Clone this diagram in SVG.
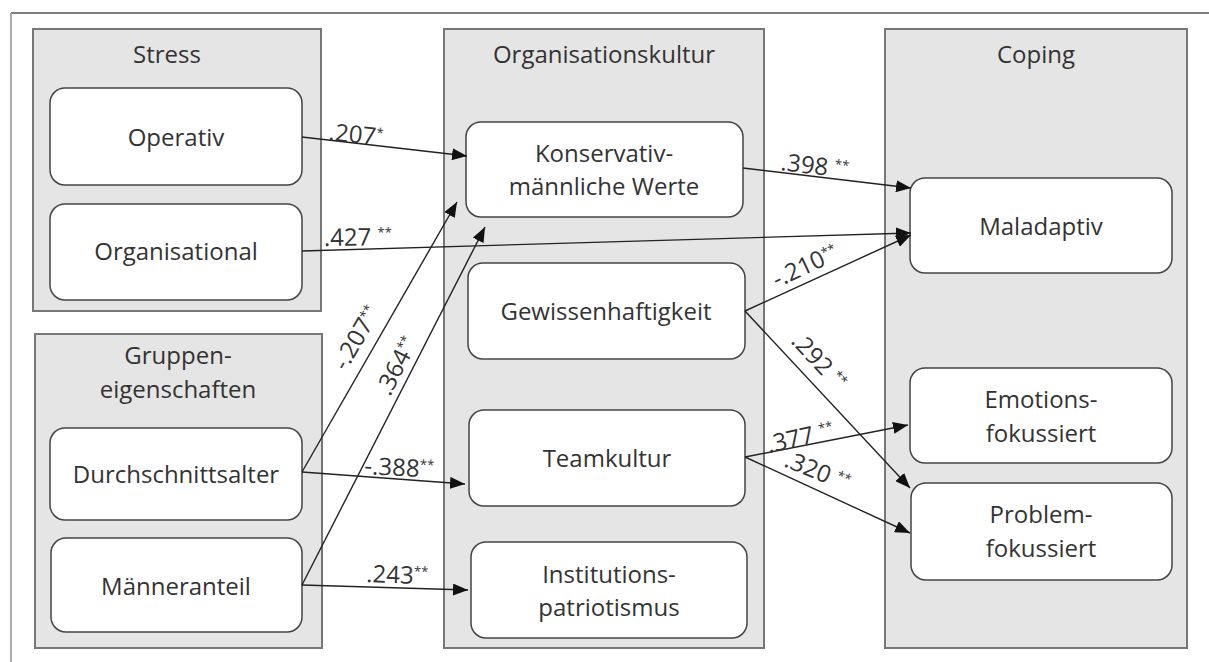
<svg xmlns="http://www.w3.org/2000/svg" width="1209" height="662" viewBox="0 0 1209 662">
<style>
.grp{fill:#e5e5e5;stroke:#777;stroke-width:2}
.node{fill:#fff;stroke:#444;stroke-width:1.5}
.t{font-family:"Open Sans","Liberation Sans",sans-serif;font-size:24px;fill:#333;text-anchor:middle}
.lbl{font-family:"Open Sans","Liberation Sans",sans-serif;font-size:24px;fill:#333}
.sup{font-size:13px}
.edge{fill:none;stroke:#222;stroke-width:1.4;marker-end:url(#arr)}
</style>
<defs>
<marker id="arr" markerUnits="userSpaceOnUse" markerWidth="16" markerHeight="12" refX="15" refY="6" orient="auto">
<path d="M0,0 L15,6 L0,12 z" fill="#111"/>
</marker>
</defs>
<rect width="1209" height="662" fill="#fff"/>
<line x1="11" y1="13" x2="1209" y2="13" stroke="#555" stroke-width="1.5"/>
<line x1="11" y1="13" x2="11" y2="662" stroke="#aaa" stroke-width="2"/>

<g id="group-stress">
<rect class="grp" x="33" y="29" width="288" height="282"/>
<text class="t" x="167" y="63">Stress</text>
</g>
<g id="group-gruppen">
<rect class="grp" x="35" y="334" width="287" height="314"/>
<text class="t" x="178" y="364">Gruppen-</text>
<text class="t" x="178" y="398">eigenschaften</text>
</g>
<g id="group-org">
<rect class="grp" x="444" y="29" width="320" height="619"/>
<text class="t" x="604" y="63">Organisationskultur</text>
</g>
<g id="group-coping">
<rect class="grp" x="885" y="29" width="302" height="619"/>
<text class="t" x="1036" y="63">Coping</text>
</g>

<g id="n-operativ"><rect class="node" x="50" y="88" width="252" height="97" rx="15"/><text class="t" x="176" y="146">Operativ</text></g>
<g id="n-organisational"><rect class="node" x="50" y="204" width="252" height="96" rx="15"/><text class="t" x="176" y="260">Organisational</text></g>
<g id="n-durchschnittsalter"><rect class="node" x="50" y="428" width="252" height="92" rx="15"/><text class="t" x="176" y="483">Durchschnittsalter</text></g>
<g id="n-maenneranteil"><rect class="node" x="51" y="538" width="251" height="94" rx="15"/><text class="t" x="176" y="595">Männeranteil</text></g>

<g id="n-konservativ"><rect class="node" x="466" y="122" width="277" height="95" rx="15"/><text class="t" x="604" y="162">Konservativ-</text><text class="t" x="604" y="195">männliche Werte</text></g>
<g id="n-gewissenhaftigkeit"><rect class="node" x="468" y="263" width="277" height="96" rx="15"/><text class="t" x="606" y="320">Gewissenhaftigkeit</text></g>
<g id="n-teamkultur"><rect class="node" x="469" y="410" width="276" height="96" rx="15"/><text class="t" x="607" y="467">Teamkultur</text></g>
<g id="n-institutions"><rect class="node" x="471" y="542" width="276" height="96" rx="15"/><text class="t" x="609" y="583">Institutions-</text><text class="t" x="609" y="616">patriotismus</text></g>

<g id="n-maladaptiv"><rect class="node" x="910" y="178" width="262" height="95" rx="15"/><text class="t" x="1041" y="235">Maladaptiv</text></g>
<g id="n-emotions"><rect class="node" x="910" y="368" width="262" height="95" rx="15"/><text class="t" x="1041" y="408">Emotions-</text><text class="t" x="1041" y="442">fokussiert</text></g>
<g id="n-problem"><rect class="node" x="911" y="483" width="261" height="97" rx="15"/><text class="t" x="1041" y="523">Problem-</text><text class="t" x="1041" y="557">fokussiert</text></g>

<g id="connectors">
<path class="edge" d="M302,137 L467,156"/>
<path class="edge" d="M302,251 L911,233"/>
<path class="edge" d="M302,472 L457,202"/>
<path class="edge" d="M302,585 L485,227"/>
<path class="edge" d="M302,472 L465,484"/>
<path class="edge" d="M302,585 L468,590"/>
<path class="edge" d="M743,168 L911,188"/>
<path class="edge" d="M745,311 L911,235"/>
<path class="edge" d="M745,311 L910,488"/>
<path class="edge" d="M745,457 L908,425"/>
<path class="edge" d="M745,457 L910,533"/>
</g>

<g id="labels">
<text class="lbl" transform="translate(328,140) rotate(6)">.207<tspan class="sup" dy="-8">*</tspan></text>
<text class="lbl" transform="translate(324,246) rotate(-1)">.427 <tspan class="sup" dy="-8">**</tspan></text>
<text class="lbl" transform="translate(346,372) rotate(-60)">-.207<tspan class="sup" dy="-8">**</tspan></text>
<text class="lbl" transform="translate(390,397) rotate(-63)">.364<tspan class="sup" dy="-8">**</tspan></text>
<text class="lbl" transform="translate(364,474) rotate(3)">-.388<tspan class="sup" dy="-8">**</tspan></text>
<text class="lbl" transform="translate(366,582) rotate(2)">.243<tspan class="sup" dy="-8">**</tspan></text>
<text class="lbl" transform="translate(780,170) rotate(7)">.398 <tspan class="sup" dy="-8">**</tspan></text>
<text class="lbl" transform="translate(777,288) rotate(-25)">-.210<tspan class="sup" dy="-8">**</tspan></text>
<text class="lbl" transform="translate(790,342) rotate(47)">.292 <tspan class="sup" dy="-8">**</tspan></text>
<text class="lbl" transform="translate(769,453) rotate(-13)">.377 <tspan class="sup" dy="-8">**</tspan></text>
<text class="lbl" transform="translate(783,466) rotate(22)">.320 <tspan class="sup" dy="-8">**</tspan></text>
</g>
</svg>
